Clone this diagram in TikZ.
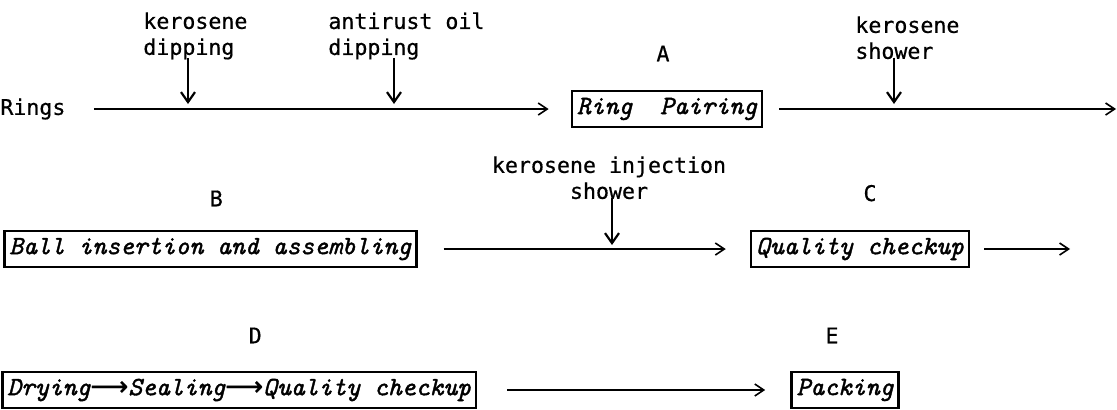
\documentclass[tikz,border=0pt]{standalone}
\usepackage{fontspec}
\usetikzlibrary{arrows.meta,positioning}
\newfontfamily\labelfont{DejaVu Sans Mono}[FakeBold=0.6]
\newfontfamily\stagefont{lmmono10-italic}[Extension=.otf,FakeBold=1.4]
\newfontfamily\arrowfont{DejaVu Sans}[FakeBold=1]

\begin{document}
\begin{tikzpicture}[x=0.5pt,y=-0.5pt,
    stage/.style={draw,line width=1.3pt,inner sep=2.5pt,minimum height=18pt,
        font=\stagefont\fontsize{13.2}{15}\selectfont},
    note/.style={font=\labelfont\fontsize{10.8}{13}\selectfont,inner sep=0pt},
    flow/.style={-{Straight Barb[length=4.5pt,width=6pt]},line width=0.8pt},
    feed/.style={-{Straight Barb[length=5pt,width=7pt]},line width=1.1pt}
]
\useasboundingbox (0,0) rectangle (1117,409);
% row 1
\node[note,anchor=west] (rings) at (0,109) {Rings};
\node[stage] (pair) at (667,109) {Ring\ \ Pairing};
\node[note,above=14pt of pair,xshift=-2pt] {A};
\node[note,align=left,anchor=north west] (kd) at (143,12) {kerosene\\dipping};
\node[note,align=left,anchor=north west] (ao) at (328,12) {antirust oil\\dipping};
\node[note,align=left,anchor=north west] (ks) at (855,16) {kerosene\\shower};
\coordinate (kdin) at (188,104);
\coordinate (aoin) at (394,104);
\coordinate (ksin) at (894,104);
\coordinate (outA) at (1116,109);
\draw[flow,shorten <=14pt,shorten >=11pt] (rings.east) -- (pair.west);
\draw[flow,shorten <=8pt] (pair.east) -- (outA);
\foreach \lbl/\pt in {kd/kdin,ao/aoin,ks/ksin}
    \draw[feed] (\pt |- \lbl.south) ++(0,-2) -- (\pt);
% row 2
\node[stage,anchor=west] (ball) at (3,249) {Ball insertion and assembling};
\node[note,above=11.5pt of ball,xshift=3pt] {B};
\node[stage] (qc) at (860,249) {Quality checkup};
\node[note,above=14pt of qc,xshift=5pt] {C};
\node[note,align=center,anchor=north] (ki) at (609,156) {kerosene injection\\shower};
\coordinate (kiin) at (612,245);
\coordinate (outC) at (1070,249);
\draw[flow,shorten <=13pt,shorten >=12pt] (ball.east) -- (qc.west);
\draw[flow,shorten <=7pt] (qc.east) -- (outC);
\draw[feed] (kiin |- ki.south) ++(0,-2) -- (kiin);
% row 3
\node[stage,anchor=west] (dry) at (1,390) {Drying{\arrowfont ⟶}Sealing{\arrowfont ⟶}Quality checkup};
\node[note,above=13.5pt of dry,xshift=8pt] {D};
\node[stage] (pack) at (845,390) {Packing};
\node[note,above=13.5pt of pack,xshift=-6.5pt] {E};
\draw[flow,shorten <=15pt,shorten >=12.5pt] (dry.east) -- (pack.west);
\end{tikzpicture}
\end{document}
